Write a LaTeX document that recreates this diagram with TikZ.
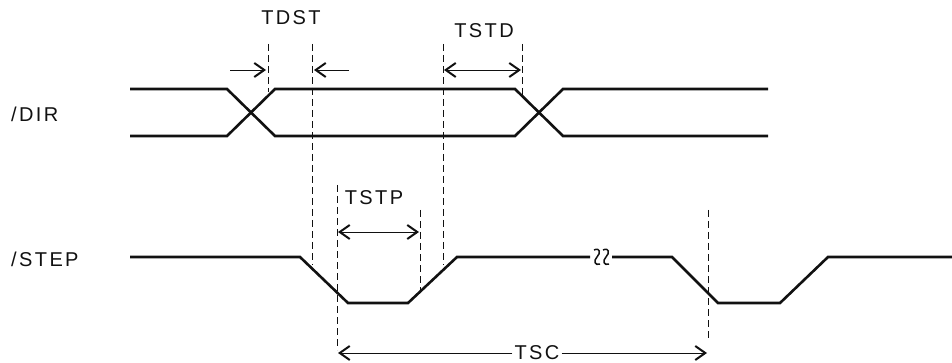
\documentclass[tikz,border=0pt]{standalone}
\usepackage{fontspec}
\setmainfont{Liberation Sans}
\usepackage{tikz}
\usetikzlibrary{arrows.meta}
\definecolor{Ink}{HTML}{111111}
\newfontfamily\lblfont[LetterSpace=12]{Liberation Sans}

\begin{document}
\begin{tikzpicture}[x=1pt,y=-1pt,
  sig/.style={Ink,line width=2.6pt},
  guide/.style={Ink,line width=0.8pt,dash pattern=on 7pt off 4pt},
  barb/.tip={Straight Barb[length=10pt,width=14pt,line width=2pt]},
  dim/.style={Ink,line width=0.8pt,-barb},
  dimboth/.style={Ink,line width=0.8pt,barb-barb},
  lbl/.style={font=\lblfont\fontsize{20}{20}\selectfont,Ink,inner sep=2pt}]
  \useasboundingbox (0,0) rectangle (952,363);
  % signal names
  \node[lbl,anchor=west] (dir) at (9,114) {/DIR};
  \node[lbl,anchor=west] (step) at (9,259) {/STEP};
  % /DIR
  \draw[sig] (130,89) -- (227,89) -- (275,136) -- (515,136) -- (563,89) -- (768,89);
  \draw[sig] (130,136) -- (227,136) -- (275,89) -- (515,89) -- (563,136) -- (768,136);
  % /STEP
  \draw[sig] (130,257) -- (300,257) -- (348,303) -- (408,303) -- (457,257) -- (590,257);
  \draw[sig] (612,257) -- (672,257) -- (718,303) -- (780,303) -- (828,257) -- (952,257);
  \foreach \x in {597,606}
    \draw[Ink,line width=1.5pt] (\x-3,250) .. controls (\x+3,247) and (\x+4,253) .. (\x,257)
      .. controls (\x-4,261) and (\x-2,266) .. (\x+3,264);
  % guides
  \foreach \n/\x/\ya/\yb in {1/268/44/92, 2/312/44/265, 3/443/44/265, 4/522/44/96,
                            5/337/185/350, 6/420/210/290, 7/708/210/340} {
    \coordinate (g\n t) at (\x,\ya);
    \coordinate (g\n b) at (\x,\yb);
    \draw[guide] (g\n t) -- (g\n b);
  }
  % TDST
  \node[lbl] (tdst) at (291,18) {TDST};
  \coordinate (tdstL) at (230,70);
  \coordinate (tdstLe) at (266,70);
  \coordinate (tdstR) at (349,70);
  \coordinate (tdstRe) at (314,70);
  \draw[dim] (tdstL) -- (tdstLe);
  \draw[dim] (tdstR) -- (tdstRe);
  % TSTD
  \node[lbl] (tstd) at (484,31) {TSTD};
  \coordinate (tstdL) at (444,70);
  \coordinate (tstdR) at (521,70);
  \draw[dimboth] (tstdL) -- (tstdR);
  % TSTP
  \node[lbl] (tstp) at (374,198) {TSTP};
  \coordinate (tstpL) at (338,232);
  \coordinate (tstpR) at (419,232);
  \draw[dimboth,line width=0.6pt] (tstpL) -- (tstpR);
  % TSC
  \node[lbl] (tsc) at (537,353) {TSC};
  \coordinate (tscL) at (338,353);
  \coordinate (tscR) at (707,353);
  \draw[dim] (tsc.west) -- (tscL);
  \draw[dim] (tsc.east) -- (tscR);
\end{tikzpicture}
\end{document}
